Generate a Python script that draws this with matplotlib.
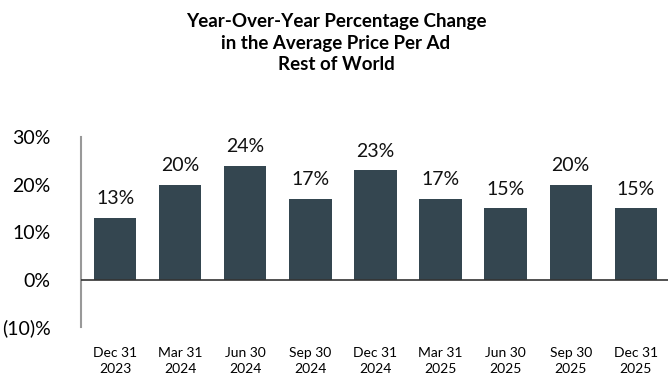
import matplotlib.pyplot as plt

plt.rcParams['font.family'] = ['Lato', 'DejaVu Sans']

quarters = ['Dec 31\n2023', 'Mar 31\n2024', 'Jun 30\n2024', 'Sep 30\n2024', 'Dec 31\n2024',
            'Mar 31\n2025', 'Jun 30\n2025', 'Sep 30\n2025', 'Dec 31\n2025']
pct_change = [13, 20, 24, 17, 23, 17, 15, 20, 15]
y_ticks = [-10, 0, 10, 20, 30]
y_tick_labels = ['(10)%', '0%', '10%', '20%', '30%']

bar_color = '#344650'

fig = plt.figure(figsize=(6.72, 3.84), dpi=100)
ax = fig.add_axes([0.1205, 0.148, 0.874, 0.495])

x = range(len(quarters))
bars = ax.bar(x, pct_change, width=0.65, color=bar_color, zorder=2)
for b, v in zip(bars, pct_change):
    ax.text(b.get_x() + b.get_width() / 2, v + 2.2, f'{v}%', ha='center', va='bottom',
            fontsize=14, color='#111111')

ax.axhline(0, color='#333333', linewidth=1.2, zorder=3)
ax.set_xlim(-0.525, 8.5)
ax.set_ylim(-10, 30)
ax.set_yticks(y_ticks)
ax.set_yticklabels(y_tick_labels, fontsize=14)
ax.set_xticks(list(x))
ax.set_xticklabels(quarters, fontsize=10, linespacing=1.45)
ax.tick_params(axis='y', length=0, pad=22)
ax.tick_params(axis='x', length=0, pad=14)

for side in ['top', 'right', 'bottom']:
    ax.spines[side].set_visible(False)
ax.spines['left'].set_color('#999999')
ax.spines['left'].set_linewidth(1.5)

fig.text(0.5, 0.965, 'Year-Over-Year Percentage Change\nin the Average Price Per Ad\nRest of World',
         ha='center', va='top', fontsize=13.5, fontweight='bold', linespacing=1.3)

plt.savefig('out.png', dpi=100)
